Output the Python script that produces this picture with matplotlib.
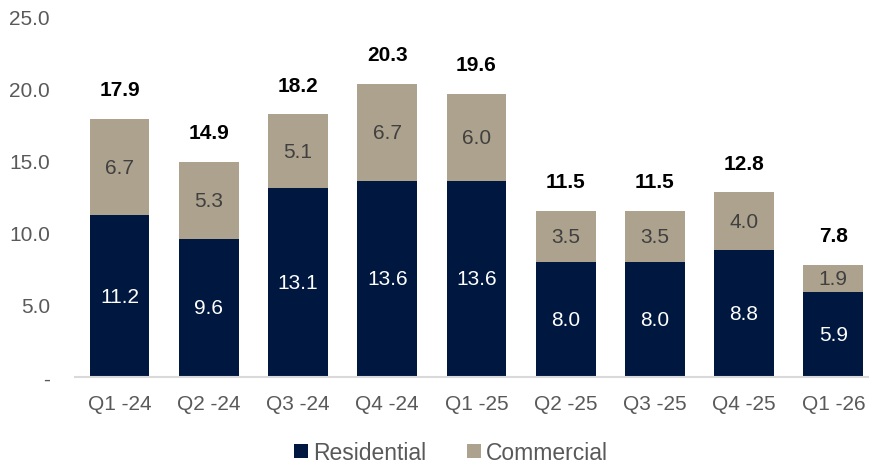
import numpy as np
from matplotlib import pyplot as plt

plt.rcParams['font.family'] = ['Liberation Sans', 'DejaVu Sans']

quarters = ['Q1 -24', 'Q2 -24', 'Q3 -24', 'Q4 -24', 'Q1 -25',
            'Q2 -25', 'Q3 -25', 'Q4 -25', 'Q1 -26']
residential = [11.2, 9.6, 13.1, 13.6, 13.6, 8.0, 8.0, 8.8, 5.9]
commercial = [6.7, 5.3, 5.1, 6.7, 6.0, 3.5, 3.5, 4.0, 1.9]
totals = [17.9, 14.9, 18.2, 20.3, 19.6, 11.5, 11.5, 12.8, 7.8]

navy = '#00173f'
tan = '#ada28d'

fig = plt.figure(figsize=(8.69, 4.64), dpi=100)
ax = fig.add_axes([75/869, 0.185, 1 - 75/869, 0.778])

x = np.arange(len(quarters))
w = 0.67
ax.bar(x, residential, w, color=navy, label='Residential')
ax.bar(x, commercial, w, bottom=residential, color=tan, label='Commercial')

for i in range(len(x)):
    ax.text(x[i], residential[i]/2, f'{residential[i]:.1f}', ha='center', va='center',
            color='white', fontsize=15)
    ax.text(x[i], residential[i] + commercial[i]/2, f'{commercial[i]:.1f}', ha='center',
            va='center', color='#404040', fontsize=15)
    ax.annotate(f'{totals[i]:.1f}', (x[i], residential[i] + commercial[i]),
                xytext=(0, 21), textcoords='offset points', ha='center', va='center',
                fontsize=15, fontweight='bold', color='black')

ax.set_xlim(-0.5, 8.4)
ax.set_ylim(0, 25)
ax.set_yticks([0, 5, 10, 15, 20, 25])
ax.set_yticklabels(['-', '5.0', '10.0', '15.0', '20.0', '25.0'])
ax.set_xticks(x)
ax.set_xticklabels(quarters)
ax.tick_params(axis='both', length=0, labelsize=15, labelcolor='#595959')
ax.tick_params(axis='y', pad=18)
ax.tick_params(axis='x', pad=12)

for s in ['top', 'right', 'left']:
    ax.spines[s].set_visible(False)
ax.spines['bottom'].set_color('#d9d9d9')
ax.spines['bottom'].set_linewidth(1.5)

leg = fig.legend(loc='center', bbox_to_anchor=(0.519, 0.022), ncol=2, frameon=False,
                 fontsize=16.5, handlelength=0.6, handleheight=0.6, handletextpad=0.2,
                 columnspacing=1.8)
for t in leg.get_texts():
    t.set_color('#595959')

plt.savefig('out.png', dpi=100)
